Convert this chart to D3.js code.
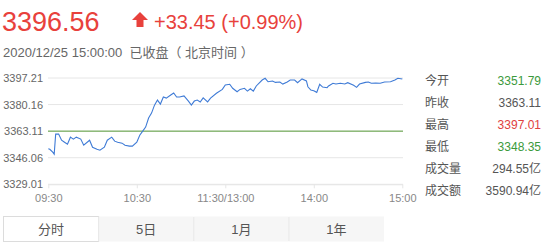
<!DOCTYPE html>
<html><head><meta charset="utf-8">
<script src="https://cdn.jsdelivr.net/npm/d3@7/dist/d3.min.js"></script>
<style>
body{margin:0;background:#fff;}
svg text{font-family:"Liberation Sans",Arial,"Noto Sans CJK SC",sans-serif;}
</style></head>
<body><svg id="c" width="547" height="249"></svg>
<script>
const lastPrice = "3396.56";
const change = "+33.45 (+0.99%)";
const timeText = "2020/12/25 15:00:00  已收盘（ 北京时间 ）";
const prevClose = 3363.11;
const yTicks = [3329.01, 3346.06, 3363.11, 3380.16, 3397.21];
const xTickMinutes = [0, 60, 120, 180, 240];
const xTickLabels = ["09:30", "10:30", "11:30/13:00", "14:00", "15:00"];
const minutes = [0,1,3,4,5,7,9,11,13,15,17,19,22,24,28,30,33,35,38,40,43,45,47,50,52,55,57,60,62,64,66,68,70,72,74,76,78,80,83,85,87,89,92,95,97,99,101,103,105,108,110,114,118,120,123,125,128,130,133,135,137,139,141,145,147,149,152,154,157,159,162,164,167,169,172,175,176,178,180,182,184,186,189,190,193,195,198,201,203,207,209,211,215,217,219,222,225,228,232,235,237,240];
const prices = [3351.79,3351.5,3349.6,3348.35,3361.2,3361.2,3357.3,3356.0,3354.7,3359.25,3358.0,3359.25,3358.0,3354.1,3357.3,3352.8,3351.5,3350.9,3352.8,3357.3,3359.25,3356.7,3356.0,3355.4,3354.1,3353.5,3353.5,3356.0,3360.5,3363.1,3365.7,3371.5,3374.7,3379.8,3383.06,3380.5,3385.0,3384.3,3386.3,3387.6,3385.0,3385.0,3385.7,3382.4,3379.8,3382.4,3383.06,3381.8,3384.5,3381.9,3384.3,3387.4,3389.9,3392.7,3393.2,3390.6,3388.4,3389.9,3390.6,3388.8,3390.3,3388.8,3392.1,3395.9,3397.01,3394.8,3395.3,3394.4,3394.6,3393.3,3394.6,3395.9,3395.9,3394.2,3396.6,3395.3,3391.6,3389.5,3389.0,3388.0,3393.2,3391.4,3391.0,3392.1,3393.8,3393.35,3393.8,3393.35,3394.2,3392.5,3391.2,3393.35,3394.4,3394.6,3393.8,3394.0,3393.8,3394.6,3394.8,3395.9,3397.0,3396.56];
const statLabels = ["今开","昨收","最高","最低","成交量","成交额"];
const statValues = ["3351.79","3363.11","3397.01","3348.35","294.55亿","3590.94亿"];
const statColors = ["#3b9a3b","#555","#e0413e","#3b9a3b","#555","#555"];
const tabs = ["分时","5日","1月","1年"];

const svg = d3.select("#c");
const red = "#e8413c";

svg.append("text").attr("x",2).attr("y",31).attr("font-size",27).attr("fill",red).text(lastPrice);
// arrow
svg.append("path").attr("d","M140,12 L148,20 L143.5,20 L143.5,27 L136.5,27 L136.5,20 L132,20 Z").attr("fill",red);
svg.append("text").attr("x",154).attr("y",29).attr("font-size",20).attr("fill",red).text(change);
svg.append("text").attr("x",3).attr("y",57).attr("font-size",13).attr("fill","#666").attr("xml:space","preserve").style("white-space","pre").text(timeText);

const x = d3.scaleLinear().domain([0,240]).range([48.3,402.3]);
const y = d3.scaleLinear().domain([3329.01,3397.21]).range([184.3,78]);

// grid
svg.append("g").selectAll("line").data(yTicks).join("line")
  .attr("x1",48).attr("x2",403).attr("y1",d=>y(d)).attr("y2",d=>y(d))
  .attr("stroke","#e6e6e6").attr("stroke-width",1);
svg.append("g").selectAll("text").data(yTicks).join("text")
  .attr("x",43).attr("y",d=>y(d)+4).attr("text-anchor","end").attr("font-size",11).attr("fill","#666")
  .text(d=>d.toFixed(2));
// x ticks
const xa = d3.axisBottom(x).tickValues(xTickMinutes).tickFormat((d,i)=>xTickLabels[i]).tickSize(4).tickSizeOuter(0);
const gx = svg.append("g").attr("transform",`translate(0,${y(3329.01)})`).call(xa);
gx.select(".domain").attr("stroke","#e6e6e6");
gx.selectAll(".tick line").attr("stroke","#e6e6e6");
gx.selectAll(".tick text").attr("font-size",11).attr("fill","#888").attr("dy","0.95em")
  .attr("font-family",'"Liberation Sans",Arial,sans-serif');

// prev close
svg.append("line").attr("x1",48).attr("x2",403).attr("y1",y(prevClose)).attr("y2",y(prevClose))
  .attr("stroke","#5a9e3c").attr("stroke-width",1);

const data = minutes.map((m,i)=>({m, v:prices[i]}));
svg.append("path").datum(data)
  .attr("d", d3.line().x(d=>x(d.m)).y(d=>y(d.v)))
  .attr("fill","none").attr("stroke","#3f7bd6").attr("stroke-width",1.1);

// stats
const sy = d3.scalePoint().domain(d3.range(6)).range([80,190]);
statLabels.forEach((l,i)=>{
  svg.append("text").attr("x",425).attr("y",sy(i)+4.5).attr("font-size",12).attr("fill","#555").text(l);
  svg.append("text").attr("x",541).attr("y",sy(i)+4.5).attr("text-anchor","end").attr("font-size",12).attr("fill",statColors[i]).text(statValues[i]);
});

// tabs
const tx = d3.scaleBand().domain(d3.range(4)).range([3.5,384]);
tabs.forEach((t,i)=>{
  svg.append("rect").attr("x",tx(i)).attr("y",216.5).attr("width",tx.bandwidth()).attr("height",25)
    .attr("fill", i===0?"#fff":"#f6f6f6").attr("stroke", i===0?"#dcdcdc":"none");
  if(i>0) svg.append("line").attr("x1",tx(i)).attr("x2",tx(i)).attr("y1",217).attr("y2",241).attr("stroke","#e8e8e8");
  svg.append("text").attr("x",tx(i)+tx.bandwidth()/2).attr("y",233.5).attr("text-anchor","middle").attr("font-size",13).attr("fill","#555").text(t);
});
</script></body></html>
